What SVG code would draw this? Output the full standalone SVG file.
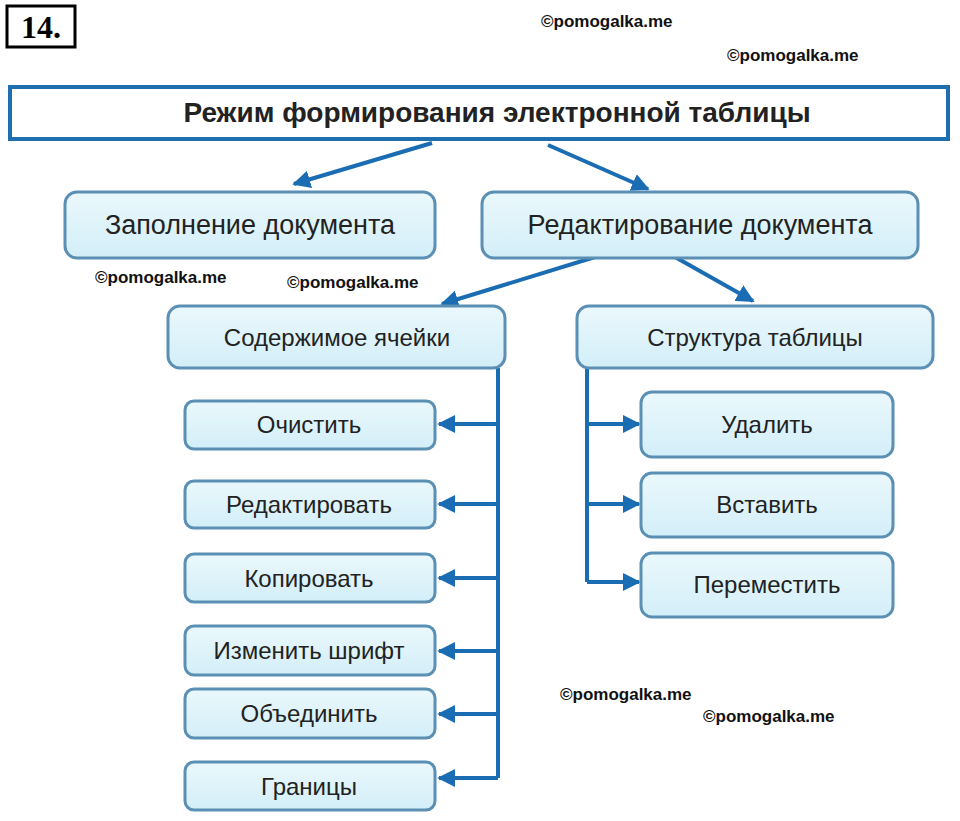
<svg xmlns="http://www.w3.org/2000/svg" width="960" height="821" viewBox="0 0 960 821">
<defs>
<marker id="ah" viewBox="0 0 10 10" refX="9" refY="5" markerWidth="4.5" markerHeight="4.5" orient="auto"><path d="M0,0 L10,5 L0,10 z" fill="#1a6db3"/></marker>
<linearGradient id="g" x1="0" y1="0" x2="0" y2="1"><stop offset="0" stop-color="#eaf8fc"/><stop offset="1" stop-color="#d3eef8"/></linearGradient>
</defs>
<style>
.n{fill:url(#g);stroke:#5b8fb4;stroke-width:3}
.t{font-family:"Liberation Sans",Arial,sans-serif;fill:#222;text-anchor:middle}
.w{font-family:"Liberation Sans",Arial,sans-serif;font-weight:bold;font-size:17px;fill:#111}
.c{stroke:#1a6db3;stroke-width:4;fill:none}
.a{stroke:#1a6db3;stroke-width:4;fill:none;marker-end:url(#ah)}
</style>
<rect width="960" height="821" fill="#fff"/>
<g id="num"><rect x="7" y="6" width="68" height="41" fill="#fff" stroke="#000" stroke-width="3"/><text x="41" y="38" font-family="Liberation Serif,serif" font-weight="bold" font-size="32" text-anchor="middle">14.</text></g>
<g id="title"><rect x="10" y="87" width="938" height="52" fill="#fff" stroke="#1f6fb0" stroke-width="4"/><text class="t" x="497" y="122" font-size="28" font-weight="bold" fill="#1a1a1a">Режим  формирования  электронной  таблицы</text></g>
<g id="connectors">
<path class="a" d="M432,143 L294,184"/>
<path class="a" d="M548,145 L648,189"/>
<path class="a" d="M595,257 L442,304"/>
<path class="a" d="M675,257 L753,301"/>
<path class="c" d="M498,368 V778"/>
<path class="a" d="M498,424 H439"/><path class="a" d="M498,504 H439"/><path class="a" d="M498,578 H439"/><path class="a" d="M498,651 H439"/><path class="a" d="M498,714 H439"/><path class="a" d="M498,778 H439"/>
<path class="c" d="M587,368 V582"/>
<path class="a" d="M587,424 H639"/><path class="a" d="M587,504 H639"/><path class="a" d="M587,582 H639"/>
</g>
<g id="fill"><rect class="n" x="65" y="192" width="370" height="66" rx="12"/><text class="t" x="250" y="234" font-size="27">Заполнение  документа</text></g>
<g id="edit"><rect class="n" x="482" y="192" width="436" height="66" rx="12"/><text class="t" x="700" y="234" font-size="27">Редактирование документа</text></g>
<g id="content"><rect class="n" x="168" y="306" width="337" height="62" rx="12"/><text class="t" x="337" y="346" font-size="24">Содержимое  ячейки</text></g>
<g id="struct"><rect class="n" x="577" y="306" width="356" height="62" rx="12"/><text class="t" x="755" y="346" font-size="24">Структура таблицы</text></g>
<g id="l1"><rect class="n" x="185" y="401" width="250" height="48" rx="9"/><text class="t" x="309" y="433" font-size="24">Очистить</text></g>
<g id="l2"><rect class="n" x="185" y="481" width="250" height="47" rx="9"/><text class="t" x="309" y="513" font-size="24">Редактировать</text></g>
<g id="l3"><rect class="n" x="185" y="554" width="250" height="48" rx="9"/><text class="t" x="309" y="587" font-size="24">Копировать</text></g>
<g id="l4"><rect class="n" x="185" y="626" width="250" height="49" rx="9"/><text class="t" x="309" y="659" font-size="24">Изменить  шрифт</text></g>
<g id="l5"><rect class="n" x="185" y="689" width="250" height="49" rx="9"/><text class="t" x="309" y="722" font-size="24">Объединить</text></g>
<g id="l6"><rect class="n" x="185" y="762" width="250" height="48" rx="9"/><text class="t" x="309" y="795" font-size="24">Границы</text></g>
<g id="r1"><rect class="n" x="641" y="392" width="252" height="65" rx="11"/><text class="t" x="767" y="433" font-size="24">Удалить</text></g>
<g id="r2"><rect class="n" x="641" y="473" width="252" height="64" rx="11"/><text class="t" x="767" y="513" font-size="24">Вставить</text></g>
<g id="r3"><rect class="n" x="641" y="553" width="252" height="64" rx="11"/><text class="t" x="767" y="593" font-size="24">Переместить</text></g>
<g id="wm">
<text class="w" x="541" y="27">©pomogalka.me</text>
<text class="w" x="727" y="61">©pomogalka.me</text>
<text class="w" x="95" y="283">©pomogalka.me</text>
<text class="w" x="287" y="288">©pomogalka.me</text>
<text class="w" x="560" y="700">©pomogalka.me</text>
<text class="w" x="703" y="722">©pomogalka.me</text>
</g>
</svg>
